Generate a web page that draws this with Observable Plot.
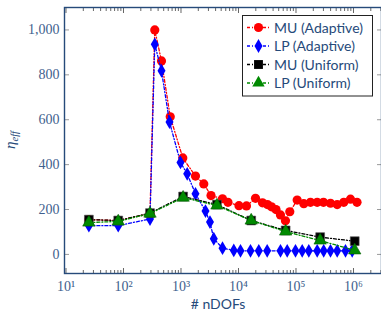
<!DOCTYPE html>
<html><head><meta charset="utf-8">
<script src="https://cdn.jsdelivr.net/npm/d3@7"></script>
<script src="https://cdn.jsdelivr.net/npm/@observablehq/plot@0.6"></script>
<style>
body{margin:0;background:#fff;}
#chart{position:relative;width:381px;height:312px;overflow:hidden;}
#legend{position:absolute;left:0;top:0;}
</style>
</head><body><div id="chart"></div>
<script>
// ---- data ----
const nMUAdaptive = [25, 81, 289, 350, 458, 650, 1075, 1787, 2490, 3330, 5270, 6560, 10200, 13770, 19760, 26140, 31900, 37500, 44900, 53700, 65600, 78000, 104900, 136700, 178600, 233700, 300600, 398100, 521000, 677900, 886700, 1151000];
const etaMUAdaptive = [155, 151, 182, 1000, 862, 613, 430, 349, 314, 262, 248, 232, 217, 216, 250, 230, 222, 212, 200, 176, 150, 190, 242, 226, 232, 232, 232, 228, 222, 232, 246, 232];

const nLPAdaptive = [25, 81, 289, 350, 458, 631, 980, 1282, 1787, 2667, 3192, 3718, 5272, 8283, 10835, 16170, 22540, 31550, 53750, 70310, 97970, 128200, 167000, 233700, 303000, 398100, 521000, 726000, 949000];
const etaLPAdaptive = [128, 128, 158, 936, 818, 590, 410, 359, 270, 193, 144, 70, 28, 18, 16, 16, 16, 16, 16, 16, 16, 16, 16, 16, 16, 16, 16, 16, 16];

const nUniform = [25, 81, 289, 1089, 4225, 16641, 66049, 263169, 1050625];
const etaMUUniform = [155, 151, 184, 258, 222, 151, 107, 77, 59];
const etaLPUniform = [142, 147, 182, 253, 218, 151, 102, 62, 18];

const seriesNames = ["MU (Adaptive)", "LP (Adaptive)", "MU (Uniform)", "LP (Uniform)"];
const yTicks = [0, 200, 400, 600, 800, 1000];
const xTicks = [10, 100, 1000, 10000, 100000, 1000000];
const xTickLabels = ["10¹", "10²", "10³", "10⁴", "10⁵", "10⁶"];
const xMinorTicks = [20,30,40,50,60,70,80,90,200,300,400,500,600,700,800,900,
  2000,3000,4000,5000,6000,7000,8000,9000,20000,30000,40000,50000,60000,70000,80000,90000,
  200000,300000,400000,500000,600000,700000,800000,900000,2000000,3000000];

// ---- styling ----
const styles = [
  {color: "#ff0000", symbol: "circle", r: 4.6},
  {color: "#0000ff", symbol: "diamond", r: 4.2},
  {color: "#000000", symbol: "square", r: 5.0},
  {color: "#008a00", symbol: "triangle", r: 4.6}
];
const navy = "#264a7a";
const tickText = "#3f5f8e";
const dash = "3,2,1,2";

const seriesData = [
  nMUAdaptive.map((n, i) => ({n, eta: etaMUAdaptive[i]})),
  nLPAdaptive.map((n, i) => ({n, eta: etaLPAdaptive[i]})),
  nUniform.map((n, i) => ({n, eta: etaMUUniform[i]})),
  nUniform.map((n, i) => ({n, eta: etaLPUniform[i]}))
];

const seriesMarks = seriesData.flatMap((d, k) => [
  Plot.line(d, {x: "n", y: "eta", stroke: styles[k].color, strokeWidth: 1.3, strokeDasharray: dash}),
  Plot.dot(d, {x: "n", y: "eta", symbol: styles[k].symbol, r: styles[k].r, fill: styles[k].color,
    stroke: k === 2 ? "#555" : (k === 3 ? "#006000" : "none"), strokeWidth: 0.6})
]);

const plot = Plot.plot({
  width: 381, height: 312,
  marginTop: 7, marginRight: 0, marginBottom: 39, marginLeft: 64,
  x: {type: "log", domain: [9.42, 3.07e6]},
  y: {domain: [-85, 1100]},
  style: {fontFamily: "'Liberation Serif', serif", fontSize: "14px", background: "white"},
  marks: [
    Plot.axisY({ticks: yTicks, anchor: "left", tickSize: 0, tickPadding: 5, tickFormat: d3.format(","), fill: tickText, label: null}),
    Plot.axisY({ticks: yTicks, anchor: "left", tickSize: -5, text: null, stroke: "#9a9a9a", label: null}),
    Plot.axisY({ticks: yTicks, anchor: "right", tickSize: -5, text: null, stroke: "#9a9a9a", label: null}),
    Plot.axisX({ticks: xTicks, anchor: "bottom", tickSize: 0, tickPadding: 8, tickFormat: d => xTickLabels[xTicks.indexOf(d)], fill: tickText, label: null}),
    Plot.axisX({ticks: xTicks, anchor: "bottom", tickSize: -5, text: null, stroke: "#666", label: null}),
    Plot.axisX({ticks: xMinorTicks, anchor: "bottom", tickSize: -3, text: null, stroke: "#666", label: null}),
    Plot.axisX({ticks: xTicks, anchor: "top", tickSize: -5, text: null, stroke: "#666", label: null}),
    Plot.axisX({ticks: xMinorTicks, anchor: "top", tickSize: -3, text: null, stroke: "#666", label: null}),
    ...seriesMarks,
    Plot.frame({stroke: navy, strokeWidth: 1.4})
  ]
});

const chart = document.getElementById("chart");
chart.appendChild(plot);

// ---- axis titles ----
const svg = d3.select(plot);
const yl = svg.append("text")
  .attr("transform", "translate(15,140) rotate(-90)")
  .attr("text-anchor", "middle")
  .attr("fill", navy)
  .style("font-family", "'Liberation Serif', serif")
  .style("font-size", "15px");
yl.append("tspan").style("font-style", "italic").text("η");
yl.append("tspan").attr("dy", 3).style("font-size", "10.5px").style("font-style", "italic").text("eff");

svg.append("text")
  .attr("x", 218).attr("y", 309)
  .attr("text-anchor", "middle")
  .attr("fill", navy)
  .style("font-family", "Lato, sans-serif")
  .style("font-size", "14px")
  .text("# nDOFs");

// ---- legend (separate overlay svg) ----
const lsvg = d3.create("svg").attr("id", "legend").attr("width", 381).attr("height", 312);
lsvg.append("rect").attr("x", 242.5).attr("y", 15.5).attr("width", 130).attr("height", 80.5)
  .attr("fill", "white").attr("stroke", "#222").attr("stroke-width", 1);
const symMap = {circle: d3.symbolCircle, diamond: d3.symbolDiamond, square: d3.symbolSquare, triangle: d3.symbolTriangle};
seriesNames.forEach((name, k) => {
  const cy = 27.5 + k * 18.5;
  lsvg.append("line").attr("x1", 247).attr("x2", 270).attr("y1", cy).attr("y2", cy)
    .attr("stroke", styles[k].color).attr("stroke-width", 1.3).attr("stroke-dasharray", dash);
  lsvg.append("path").attr("d", d3.symbol(symMap[styles[k].symbol], Math.PI * styles[k].r * styles[k].r)())
    .attr("transform", `translate(258.5,${cy})`).attr("fill", styles[k].color);
  lsvg.append("text").attr("x", 274).attr("y", cy).attr("dy", "0.36em")
    .attr("text-anchor", "start")
    .attr("fill", navy)
    .style("font-family", "Lato, sans-serif").style("font-size", "14px")
    .text(name);
});
chart.appendChild(lsvg.node());
</script>
</body></html>
